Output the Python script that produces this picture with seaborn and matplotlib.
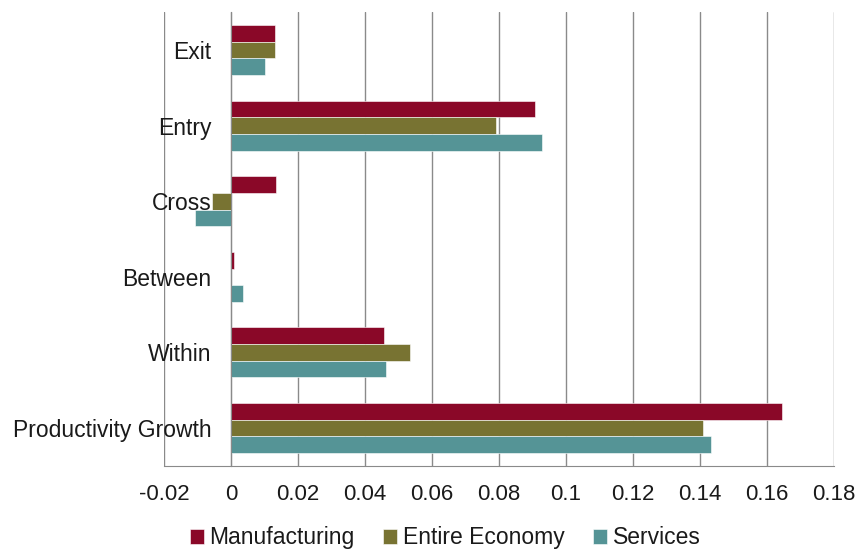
import matplotlib
matplotlib.use("Agg")
import matplotlib.pyplot as plt
import numpy as np
import pandas as pd
import seaborn as sns
from matplotlib.ticker import FixedLocator

CATEGORIES = ["Exit", "Entry", "Cross", "Between", "Within", "Productivity Growth"]
SERIES = ["Manufacturing", "Entire Economy", "Services"]
MANUFACTURING = [0.0131, 0.0907, 0.0136, 0.0008, 0.0458, 0.1645]
ENTIRE_ECONOMY = [0.0131, 0.0791, -0.0055, 0.0, 0.0534, 0.1409]
SERVICES = [0.0102, 0.0930, -0.0107, 0.0037, 0.0462, 0.1433]
COLORS = ["#8A0828", "#787332", "#559496"]
XTICKS = [-0.02, 0, 0.02, 0.04, 0.06, 0.08, 0.1, 0.12, 0.14, 0.16, 0.18]
XTICK_LABELS = ["-0.02", "0", "0.02", "0.04", "0.06", "0.08", "0.1",
                "0.12", "0.14", "0.16", "0.18"]

df = pd.DataFrame({
    "component": CATEGORIES * 3,
    "sector": np.repeat(SERIES, len(CATEGORIES)),
    "value": MANUFACTURING + ENTIRE_ECONOMY + SERVICES,
})

sns.set_style("white")
plt.rcParams["font.family"] = ["Liberation Sans", "DejaVu Sans"]
FS = 16
FS_LABEL = 16.5

fig = plt.figure(figsize=(8.58, 5.52), dpi=100)
ax = fig.add_axes([0.191, 0.156, 0.781, 0.822])

sns.barplot(
    data=df, y="component", x="value", hue="sector",
    order=CATEGORIES, hue_order=SERIES, palette=COLORS, saturation=1,
    orient="h", width=0.66, ax=ax, edgecolor="white", linewidth=0.4,
)

ax.set_xlim(-0.02, 0.18)
ax.set_ylim(len(CATEGORIES) - 0.5, -0.5)
ax.set_xticks(XTICKS)
ax.set_xticklabels(XTICK_LABELS, fontsize=FS, color="#1a1a1a")
ax.xaxis.grid(True, color="#8a8a8a", linewidth=1.0)
ax.set_axisbelow(True)

# category axis crosses at zero, Excel style
ax.spines["left"].set_position(("data", 0))
ax.spines["left"].set_color("#8a8a8a")
ax.spines["bottom"].set_color("#8a8a8a")
ax.spines["top"].set_visible(False)
ax.spines["right"].set_visible(False)
ax.tick_params(axis="y", which="major", length=0, pad=14, labelsize=FS_LABEL,
               labelcolor="#1a1a1a")
ax.yaxis.set_minor_locator(FixedLocator(np.arange(-0.5, len(CATEGORIES), 1.0)))
ax.tick_params(axis="y", which="minor", length=6, color="#8a8a8a")
ax.tick_params(axis="x", length=6, color="#8a8a8a", pad=7)
ax.set_xlabel("")
ax.set_ylabel("")

ax.legend(
    loc="upper center", bbox_to_anchor=(0.42, -0.088), ncol=3, frameon=False,
    fontsize=FS_LABEL, handlelength=0.6, handleheight=0.6, handletextpad=0.25,
    columnspacing=1.25, labelcolor="#1a1a1a",
)

fig.savefig("out.png", dpi=100)
